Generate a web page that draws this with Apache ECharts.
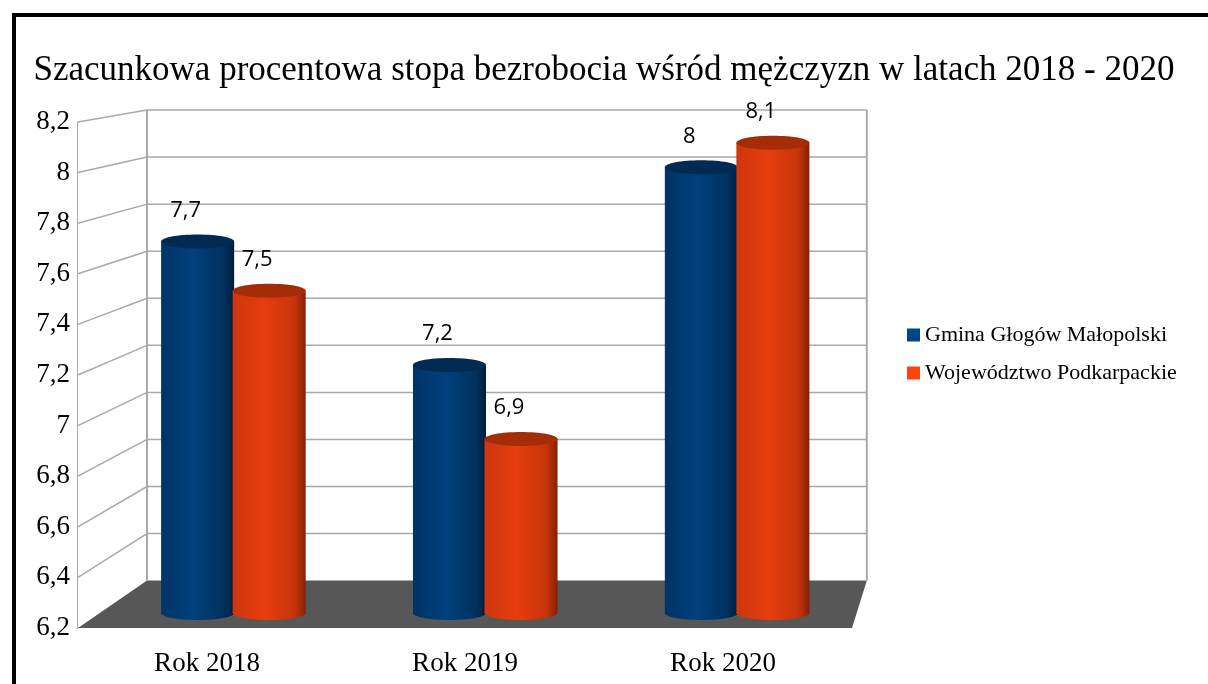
<!DOCTYPE html>
<html>
<head>
<meta charset="utf-8">
<script src="https://cdn.jsdelivr.net/npm/echarts@6/dist/echarts.min.js"></script>
<style>
  html, body { margin: 0; padding: 0; background: #fff; }
  #main { width: 1208px; height: 684px; }
</style>
</head>
<body>
<div id="main"></div>
<script>
// dane
const categories = ['Rok 2018', 'Rok 2019', 'Rok 2020'];
const gminaValues = [7.7, 7.2, 8.0];
const wojValues = [7.5, 6.9, 8.1];
const yTicks = [6.2, 6.4, 6.6, 6.8, 7.0, 7.2, 7.4, 7.6, 7.8, 8.0, 8.2];
const seriesNames = ['Gmina Głogów Małopolski', 'Województwo Podkarpackie'];

const yMin = yTicks[0];
const yMax = yTicks[yTicks.length - 1];

// pseudo 3D: tylna sciana jest przeskalowana w strone punktu zbiegu
const VP = [1064, -49];
const BACK_SCALE = 0.93;
const BAR_DEPTH = 0.34;
const BAR_SHIFT = 6;
const RY = 7;

function depthScale(d) { return 1 - (1 - BACK_SCALE) * d; }
function proj(p, d) {
  const s = depthScale(d);
  return [VP[0] + (p[0] - VP[0]) * s, VP[1] + (p[1] - VP[1]) * s];
}
const fmt = v => String(Math.round(v * 10) / 10).replace('.', ',');

const gridColor = '#a9a9a9';

function renderWalls(params, api) {
  const cs = params.coordSys;
  const left = cs.x, right = cs.x + cs.width;
  const top = cs.y, bottom = cs.y + cs.height;
  const children = [];
  // sciana lewa
  children.push({
    type: 'polygon',
    shape: { points: [[left, top], [left, bottom], proj([left, bottom], 1), proj([left, top], 1)] },
    style: { fill: '#fff', stroke: null }
  });
  // podloga
  children.push({
    type: 'polygon',
    shape: { points: [[left, bottom], [right, bottom], proj([right, bottom], 1), proj([left, bottom], 1)] },
    style: { fill: '#575757' }
  });
  yTicks.forEach(v => {
    const y = api.coord([0, v])[1];
    const a = [left, y];
    const b = proj(a, 1);
    const c = proj([right, y], 1);
    if (v !== yMin) {
      children.push({ type: 'line', shape: { x1: a[0], y1: a[1], x2: b[0], y2: b[1] },
        style: { stroke: gridColor, lineWidth: 1.5 } });
      children.push({ type: 'line', shape: { x1: b[0], y1: b[1], x2: c[0], y2: c[1] },
        style: { stroke: gridColor, lineWidth: 1.5 } });
    }
  });
  // krawedzie pionowe
  const bl0 = proj([left, top], 1), bl1 = proj([left, bottom], 1);
  const br0 = proj([right, top], 1), br1 = proj([right, bottom], 1);
  children.push({ type: 'line', shape: { x1: bl0[0], y1: bl0[1], x2: bl1[0], y2: bl1[1] },
    style: { stroke: gridColor, lineWidth: 2 } });
  children.push({ type: 'line', shape: { x1: br0[0], y1: br0[1], x2: br1[0], y2: br1[1] },
    style: { stroke: gridColor, lineWidth: 2 } });
  return { type: 'group', children: children };
}

function cylinder(offset, bodyStops, topColor) {
  return function (params, api) {
    const idx = api.value(0);
    const v = api.value(1);
    const band = api.size([1, 0])[0];
    const s = depthScale(BAR_DEPTH);
    const top = proj(api.coord([idx, v]), BAR_DEPTH);
    const base = proj(api.coord([idx, yMin]), BAR_DEPTH);
    const w = band * 0.29 * s;
    const cx = top[0] + offset * band * s + BAR_SHIFT;
    const grad = () => new echarts.graphic.LinearGradient(0, 0, 1, 0, bodyStops);
    return {
      type: 'group',
      children: [
        { type: 'ellipse', shape: { cx: cx, cy: base[1] + 1, rx: w / 2, ry: RY }, style: { fill: grad() } },
        { type: 'rect', shape: { x: cx - w / 2, y: top[1], width: w, height: base[1] + 1 - top[1] }, style: { fill: grad() } },
        { type: 'ellipse', shape: { cx: cx, cy: top[1], rx: w / 2, ry: RY }, style: { fill: topColor } },
        { type: 'text', x: cx - 12, y: top[1] - 31,
          style: { text: fmt(v), fill: '#000', font: '22px "Open Sans"', align: 'center', verticalAlign: 'middle' } }
      ]
    };
  };
}

const chart = echarts.init(document.getElementById('main'));
const option = {
  animation: false,
  backgroundColor: '#fff',
  title: {
    text: 'Szacunkowa procentowa stopa bezrobocia wśród mężczyzn w latach 2018 - 2020',
    left: 'center',
    top: 48,
    textStyle: { fontFamily: 'Liberation Serif', fontSize: 35, fontWeight: 'normal', color: '#000' }
  },
  legend: {
    orient: 'vertical',
    left: 902,
    top: 319,
    itemWidth: 13,
    itemHeight: 13,
    itemGap: 16,
    icon: 'rect',
    data: seriesNames,
    textStyle: { fontFamily: 'Liberation Serif', fontSize: 22, color: '#000' }
  },
  graphic: [{
    type: 'rect',
    shape: { x: 14, y: 15, width: 1400, height: 1000 },
    style: { fill: null, stroke: '#000', lineWidth: 4 },
    silent: true
  }],
  grid: { left: 78, top: 122, width: 774, height: 506 },
  xAxis: {
    type: 'category',
    data: categories,
    axisLine: { show: false },
    axisTick: { show: false },
    axisLabel: { margin: 22, fontFamily: 'Liberation Serif', fontSize: 27, color: '#000' }
  },
  yAxis: {
    type: 'value',
    min: yMin,
    max: yMax,
    interval: 0.2,
    axisLine: { show: true, lineStyle: { color: gridColor, width: 2 } },
    axisTick: { show: false },
    splitLine: { show: false },
    axisLabel: { margin: 8, fontFamily: 'Liberation Serif', fontSize: 27, color: '#000', formatter: fmt }
  },
  series: [
    {
      type: 'custom',
      name: 'walls',
      z: 1,
      silent: true,
      renderItem: renderWalls,
      data: [[0, yMin]]
    },
    {
      type: 'custom',
      name: seriesNames[0],
      z: 2,
      itemStyle: { color: '#004586' },
      renderItem: cylinder(-0.142,
        [{ offset: 0, color: '#003467' }, { offset: 0.45, color: '#00407c' },
         { offset: 0.85, color: '#00325f' }, { offset: 1, color: '#001d3a' }],
        '#002a52'),
      data: gminaValues.map((v, i) => [i, v])
    },
    {
      type: 'custom',
      name: seriesNames[1],
      z: 3,
      itemStyle: { color: '#ff420e' },
      renderItem: cylinder(0.142,
        [{ offset: 0, color: '#cf370c' }, { offset: 0.45, color: '#e53d0e' },
         { offset: 0.85, color: '#c7340b' }, { offset: 1, color: '#852005' }],
        '#a42c07'),
      data: wojValues.map((v, i) => [i, v])
    }
  ]
};
option && chart.setOption(option);
</script>
</body>
</html>
